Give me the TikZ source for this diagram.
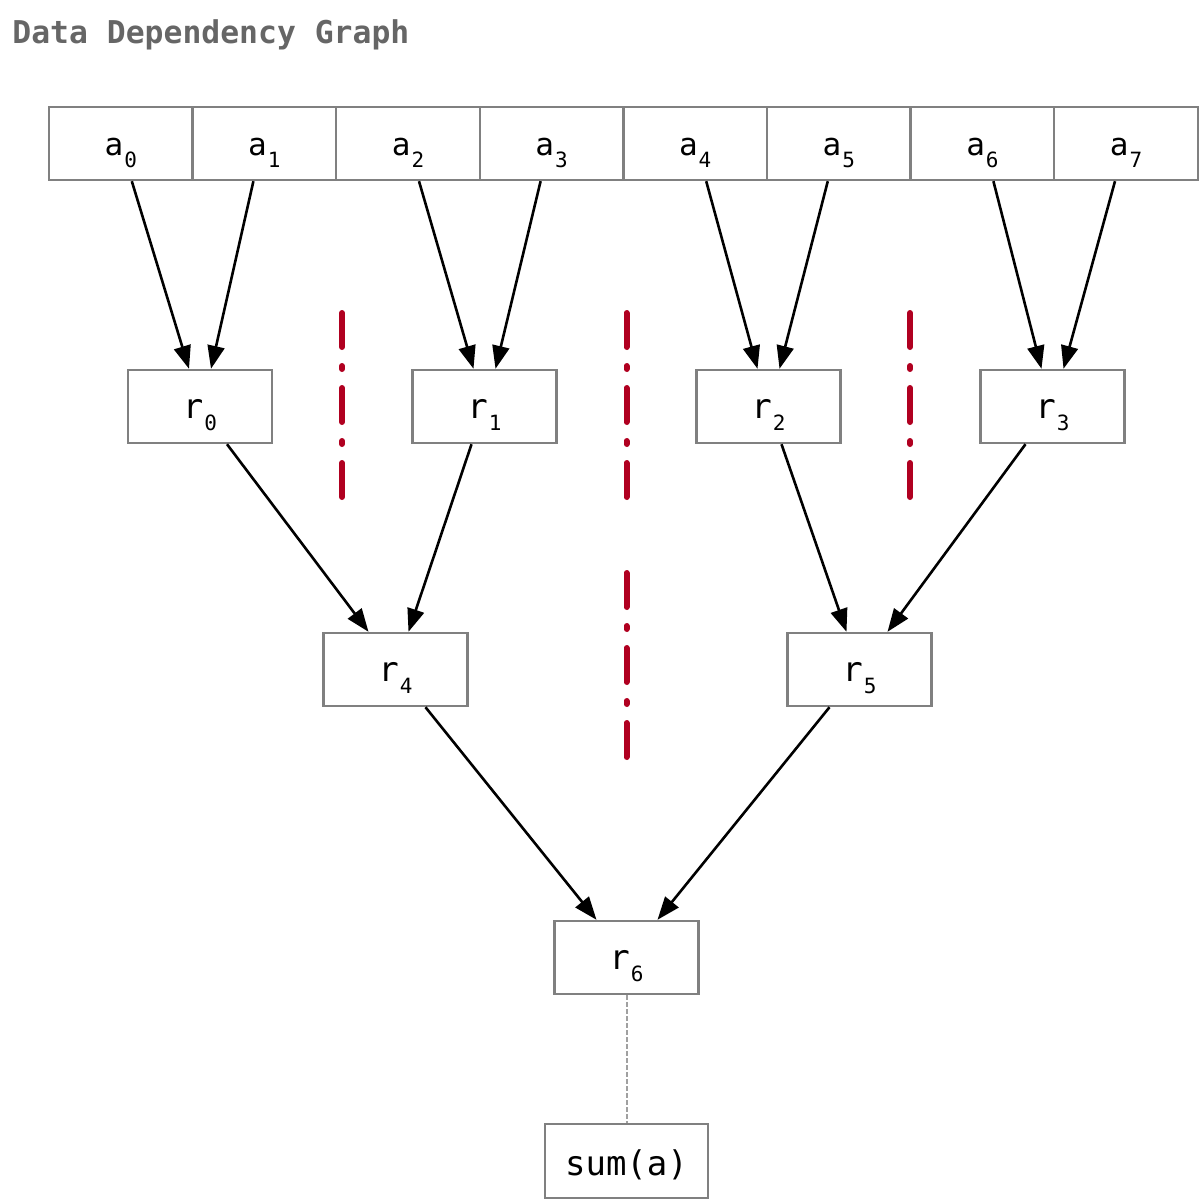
\documentclass[tikz,border=0pt]{standalone}
\usepackage{fontspec}
\setmonofont{DejaVu Sans Mono}
\usetikzlibrary{arrows.meta}
\definecolor{bordergray}{HTML}{808080}
\definecolor{sepred}{HTML}{B00020}
\definecolor{titlegray}{HTML}{666666}
\definecolor{linkgray}{HTML}{A0A0A0}
\newcommand\ssub[2]{#1\hspace{0.5pt}\raisebox{-6pt}{\fontsize{10.5pt}{11pt}\selectfont #2}}
\begin{document}
\begin{tikzpicture}[x=0.5pt,y=-0.5pt,
  cell/.style={draw=bordergray, line width=1.2pt, minimum width=71.8pt, minimum height=36.5pt,
    inner sep=0pt, font=\ttfamily\fontsize{15.5pt}{17pt}\selectfont, text height=11.5pt, text depth=0pt},
  rbox/.style={cell, minimum width=72pt, font=\ttfamily\fontsize{17pt}{19pt}\selectfont},
  sumbox/.style={rbox, minimum width=81.5pt, minimum height=37pt, text height=14pt},
  arr/.style={-{Triangle[length=11.5pt,width=8.5pt]}, line width=1.3pt, black},
  sepline/.style={draw=sepred, line width=3pt, line cap=round,
    dash pattern=on 17pt off 9.5pt on 1.5pt off 9.5pt},
  link/.style={draw=linkgray, line width=1pt, dash pattern=on 2.5pt off 1pt},
]
\useasboundingbox (0,0) rectangle (1200,1200);

\node[anchor=base west, inner sep=0pt, font=\ttfamily\bfseries\fontsize{15.7pt}{17pt}\selectfont,
  text=titlegray] (title) at (12,43) {Data Dependency Graph};

% array cells
\foreach \i in {0,...,7}{
  \node[cell] (a\i) at ({49+143.6*(\i+0.5)},143.5) {\ssub{a}{\i}};
}

% reduction nodes
\node[rbox] (r0) at (200,406.5) {\ssub{r}{0}};
\node[rbox] (r1) at (484.5,406.5) {\ssub{r}{1}};
\node[rbox] (r2) at (768.5,406.5) {\ssub{r}{2}};
\node[rbox] (r3) at (1052.5,406.5) {\ssub{r}{3}};
\node[rbox] (r4) at (395.5,669.5) {\ssub{r}{4}};
\node[rbox] (r5) at (859.5,669.5) {\ssub{r}{5}};
\node[rbox] (r6) at (626.5,957.5) {\ssub{r}{6}};
\node[sumbox] (sum) at (626.5,1161) {sum(a)};

% separators
\draw[sepline] (342,313) -- (342,499);
\draw[sepline] (626.5,313) -- (626.5,499);
\draw[sepline] (626.5,573) -- (626.5,759);
\draw[sepline] (910,313) -- (910,499);

% arrows level 1
\draw[arr] ([xshift=5.5pt]a0.south) -- ([xshift=-5.5pt]r0.north);
\draw[arr] ([xshift=-5.5pt]a1.south) -- ([xshift=5.5pt]r0.north);
\draw[arr] ([xshift=5.5pt]a2.south) -- ([xshift=-5.5pt]r1.north);
\draw[arr] ([xshift=-5.5pt]a3.south) -- ([xshift=5.5pt]r1.north);
\draw[arr] ([xshift=5.5pt]a4.south) -- ([xshift=-5.5pt]r2.north);
\draw[arr] ([xshift=-5.5pt]a5.south) -- ([xshift=5.5pt]r2.north);
\draw[arr] ([xshift=5.5pt]a6.south) -- ([xshift=-5.5pt]r3.north);
\draw[arr] ([xshift=-5.5pt]a7.south) -- ([xshift=5.5pt]r3.north);

% level 2
\draw[arr] ([xshift=13.5pt]r0.south) -- ([xshift=-13.5pt]r4.north);
\draw[arr] ([xshift=-6.5pt]r1.south) -- ([xshift=6.5pt]r4.north);
\draw[arr] ([xshift=6.5pt]r2.south) -- ([xshift=-6.5pt]r5.north);
\draw[arr] ([xshift=-13.5pt]r3.south) -- ([xshift=14pt]r5.north);

% level 3
\draw[arr] ([xshift=15pt]r4.south) -- ([xshift=-15pt]r6.north);
\draw[arr] ([xshift=-15pt]r5.south) -- ([xshift=15.5pt]r6.north);

% result
\draw[link] (r6.south) -- (sum.north);
\end{tikzpicture}
\end{document}
